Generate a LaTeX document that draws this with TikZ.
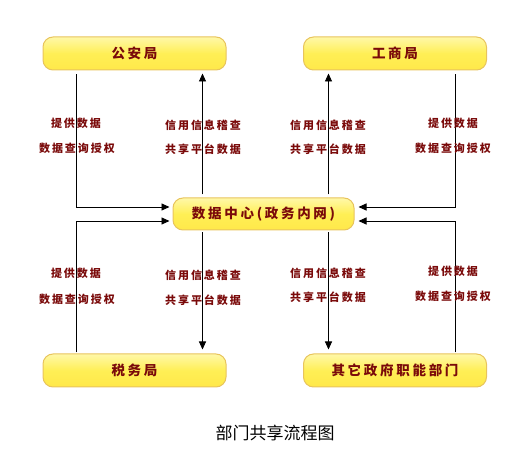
\documentclass[tikz,border=0pt]{standalone}
\usepackage{fontspec}
\usetikzlibrary{arrows.meta}
\newfontfamily\cjk{Noto Sans CJK SC}
\newfontfamily\cjklab[LetterSpace=18]{Noto Sans CJK SC}
\newfontfamily\cjkbox[LetterSpace=20]{Noto Sans CJK SC}
\definecolor{boxtop}{HTML}{FFF8A8}
\definecolor{boxmid}{HTML}{FFEF55}
\definecolor{boxbot}{HTML}{FFE84A}
\definecolor{boxline}{HTML}{E8C45C}
\definecolor{txtred}{HTML}{7A0A0A}
\tikzset{
  dept/.style={draw=boxline, line width=1pt, rounded corners=10pt,
    top color=boxtop, bottom color=boxbot, middle color=boxmid,
    minimum width=183pt, minimum height=33pt, inner sep=0pt,
    text=txtred, font=\cjkbox\bfseries\fontsize{13.5}{15}\selectfont},
  lab/.style={text=txtred, font=\cjklab\bfseries\fontsize{11}{12}\selectfont, inner sep=0pt},
  conn/.style={line width=0.9pt, black},
  arr/.style={conn, -{Triangle[length=8pt,width=7pt]}},
}
\begin{document}
\begin{tikzpicture}[x=1pt,y=-1pt]
\useasboundingbox (0,0) rectangle (525,462);
% boxes
\node[dept] (ga) at (134.5,53.5) {公安局};
\node[dept] (gs) at (395,53.5) {工商局};
\node[dept, minimum width=181pt, minimum height=32pt] (cd) at (263.5,214) {数据中心(政务内网)};
\node[dept] (sw) at (134.5,370.5) {税务局};
\node[dept] (qt) at (395,370.5) {其它政府职能部门};
% anchor coordinates
\coordinate (ga1) at ([xshift=34pt,yshift=-4pt]ga.south west);
\coordinate (cdl1) at ([xshift=-3pt,yshift=7pt]cd.west);
\coordinate (cdl2) at ([xshift=-3pt,yshift=-7pt]cd.west);
\coordinate (cdr1) at ([xshift=4pt,yshift=7pt]cd.east);
\coordinate (cdr2) at ([xshift=4pt,yshift=-7pt]cd.east);
\coordinate (cdtl) at ([xshift=30pt,yshift=3pt]cd.north west);
\coordinate (cdtr) at ([xshift=-26pt,yshift=3pt]cd.north east);
\coordinate (cdbl) at ([xshift=30pt,yshift=-2pt]cd.south west);
\coordinate (cdbr) at ([xshift=-26pt,yshift=-2pt]cd.south east);
\coordinate (gs1) at ([xshift=-32pt,yshift=-4pt]gs.south east);
\coordinate (sw1) at ([xshift=34pt,yshift=1pt]sw.north west);
\coordinate (qt1) at ([xshift=-32pt,yshift=1pt]qt.north east);
% connectors top
\draw[arr] (ga1) |- (cdl1);
\draw[arr, shorten >=3pt] (cdtl) -- (cdtl |- ga.south);
\draw[arr, shorten >=3pt] (cdtr) -- (cdtr |- gs.south);
\draw[arr] (gs1) |- (cdr1);
% connectors bottom
\draw[arr] (sw1) |- (cdl2);
\draw[arr, shorten >=4pt] (cdbl) -- (cdbl |- sw.north);
\draw[arr, shorten >=4pt] (cdbr) -- (cdbr |- qt.north);
\draw[arr] (qt1) |- (cdr2);
% labels top-left
\node[lab] (l1) at (76,123) {提供数据};
\node[lab] (l2) at (77,148) {数据查询授权};
\node[lab] (l3) at (203,125) {信用信息稽查};
\node[lab] (l4) at (203,149) {共享平台数据};
% labels top-right
\node[lab] (l5) at (328,125) {信用信息稽查};
\node[lab] (l6) at (328,149) {共享平台数据};
\node[lab] (l7) at (453,123) {提供数据};
\node[lab] (l8) at (453,148) {数据查询授权};
% labels bottom-left
\node[lab] (l9) at (76,273) {提供数据};
\node[lab] (l10) at (77,299) {数据查询授权};
\node[lab] (l11) at (203,275) {信用信息稽查};
\node[lab] (l12) at (203,300) {共享平台数据};
% labels bottom-right
\node[lab] (l13) at (328,273) {信用信息稽查};
\node[lab] (l14) at (328,297) {共享平台数据};
\node[lab] (l15) at (453,271) {提供数据};
\node[lab] (l16) at (453,296) {数据查询授权};
% caption
\node[font=\cjk\fontsize{17}{19}\selectfont, inner sep=0pt] (cap) at (275,433) {部门共享流程图};
\end{tikzpicture}
\end{document}
